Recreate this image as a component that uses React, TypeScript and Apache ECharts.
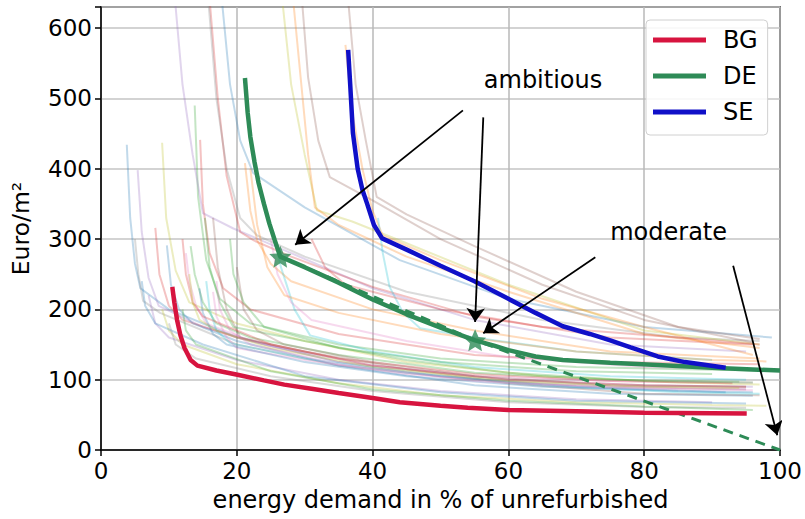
import React, { useEffect, useRef } from "react";
import * as echarts from "echarts";

// ---- axis ticks ----
const xTicks = [0, 20, 40, 60, 80, 100];
const yTicks = [0, 100, 200, 300, 400, 500, 600];

// ---- highlighted countries ----
const seriesNames = ["BG", "DE", "SE"];
const bgCurve = [[10.5,232],[10.8,210],[11.2,185],[11.7,163],[12.3,145],[13.2,128],[14.2,120],[17,113],[20.1,107],[24,99],[27,93],[31,87],[35,81],[40,74],[44,68],[50,63],[54,60],[60,57],[70,55],[80,53],[95.1,52]];
const deCurve = [[21.2,529],[21.6,480],[22.0,445],[22.6,410],[23.2,380],[24,350],[24.8,322],[25.6,298],[26.4,275],[30,260],[35,238],[40,214],[45,193],[50,174],[55.1,156],[58,148],[60,142],[64,133],[68,128],[75,124],[82,121],[90,117],[100,113]];
const seCurve = [[36.4,569],[36.7,520],[37.1,451],[37.8,400],[38.5,370],[39.2,350],[40.2,320],[41.4,301],[45,285],[50,262],[55,240],[60,215],[64,195],[68,176],[72,165],[75,156],[78,146],[82,133],[86,125],[92,117]];
const deTargetLine = [[26.4,275],[55.1,156],[100,0]];
const starPoints = [[26.4,275],[55.1,156]];

// ---- annotations ----
const annotationTexts = [["ambitious", 65.1, 526], ["moderate", 83.6, 310]];
const arrowLines = [
  [[53.3,483],[28.6,292]],
  [[56.3,473],[55.1,182]],
  [[72.8,274],[56.3,166]],
  [[93.1,262],[99.6,21]],
];

// ---- other countries (faint) ----
const tab10 = ["#1f77b4","#ff7f0e","#2ca02c","#d62728","#9467bd","#8c564b","#e377c2","#7f7f7f","#bcbd22","#17becf"];
const c01 = [[3.8,434],[4.3,330],[5.0,265],[5.8,230],[10,200],[20,160],[35,125],[50,105],[70,90],[92,82]];
const c02 = [[5.0,300],[5.5,250],[6.2,212],[8.7,195],[20,150],[35,120],[55,100],[75,90],[95,86]];
const c03 = [[5.4,398],[6.0,310],[7.0,245],[8.5,205],[15,175],[25,148],[40,120],[60,100],[80,92],[96,90]];
const c04 = [[9.0,437],[9.6,330],[11,255],[13,210],[20,180],[30,155],[45,125],[65,105],[85,96],[97,93]];
const c05 = [[8.0,316],[8.6,250],[10,205],[12,185],[20,160],[35,130],[55,108],[75,98],[93,95]];
const c06 = [[9.7,291],[10.3,235],[11.5,200],[13.5,180],[20,155],[35,120],[55,92],[75,80],[96,77]];
const c07 = [[13.8,490],[14.3,360],[15.5,270],[17.5,215],[22,180],[35,150],[50,130],[70,118],[90,114],[97,113]];
const c08 = [[14.6,441],[15,350],[16,280],[18,230],[22,200],[35,165],[55,135],[75,125],[97,122]];
const c09 = [[10.9,640],[12,520],[13.5,420],[15,337],[19.5,315],[28,280],[40,230],[55,185],[75,150],[95,140]];
const c10 = [[16,640],[17.2,500],[18.5,390],[20.5,310],[22.5,298],[28,275],[40,232],[55,190],[75,160],[96,150]];
const c11 = [[15.8,640],[17,500],[18.5,400],[20.5,330],[23,305],[30,275],[45,225],[65,185],[85,160],[97,155]];
const c12 = [[17.8,640],[19,520],[20.5,440],[22.4,394],[30,345],[44,270],[60,215],[80,175],[98.8,160]];
const c13 = [[26.7,640],[28,520],[30,420],[31.8,341],[37,325],[44,298],[60,235],[80,170],[97,150]];
const c14 = [[28.3,640],[29.5,520],[30.5,420],[31.5,345],[35,320],[45,275],[60,225],[80,165],[97,145]];
const c15 = [[29.6,640],[30.5,530],[32,440],[33.7,388],[40,355],[50,300],[65,235],[80,185],[96,153]];
const c16 = [[36.4,640],[37.5,520],[39,440],[40.6,360],[45,335],[55,290],[70,225],[85,175],[97,158]];
const c17 = [[36,576],[37,480],[38.5,400],[40,340],[41.5,305],[50,270],[65,215],[80,175],[96,135]];
const c18 = [[21.2,408],[22,340],[23,298],[25,265],[28,240],[40,200],[55,170],[75,140],[97,130]];
const c19 = [[25.3,313],[26.5,260],[28.5,200],[30.8,163],[40,140],[55,118],[75,105],[95,100]];
const c20 = [[40.8,330],[41.5,280],[42.5,232],[44.5,195],[47,173],[55,160],[70,140],[90,128]];
const c21 = [[13.2,290],[13.8,250],[15,210],[17,180],[22,160],[35,135],[55,110],[75,100],[94,97]];
const c22 = [[12.5,280],[13,240],[14,205],[15.5,180],[22,155],[35,125],[55,105],[75,98],[96,96]];
const c23 = [[16.5,330],[17.2,260],[18.5,200],[20.5,160],[30,140],[45,115],[60,95],[80,80],[97,78]];
const c24 = [[15.3,330],[16,260],[17.5,210],[19.5,175],[30,155],[45,128],[60,110],[80,98],[96,96]];
const c25 = [[16.5,225],[17,190],[18.5,160],[20,145],[30,128],[45,108],[65,93],[85,88],[95,87]];
const c26 = [[14.5,230],[15,195],[16.5,165],[18.5,150],[30,125],[45,105],[65,90],[85,84],[96,82]];
const c27 = [[15.5,240],[16,200],[17,170],[19,152],[30,130],[45,110],[65,92],[85,82],[97,80]];
const c28 = [[12,300],[12.5,250],[13.5,210],[15,190],[25,150],[40,120],[60,100],[80,92],[95,90]];
const c29 = [[13,250],[13.5,210],[14.5,185],[17,170],[25,145],[40,118],[60,98],[80,90],[94,88]];
const c30 = [[7,220],[8,180],[10,160],[20,128],[35,100],[50,84],[70,72],[90,68]];
const c31 = [[20,260],[21,200],[23,170],[27,150],[40,125],[55,105],[75,92],[95,90]];
const c32 = [[25,300],[26,250],[28,210],[31,185],[45,155],[60,132],[80,118],[96,115]];
const c33 = [[19,300],[19.5,250],[21,210],[24,175],[35,145],[50,125],[70,112],[90,108]];
const c34 = [[9,200],[10,170],[12,150],[20,122],[35,95],[50,78],[70,68],[90,64],[98,63]];
const c35 = [[6,240],[6.5,205],[8,180],[15,150],[30,105],[50,82],[70,70],[95,66]];
const c36 = [[10,180],[11,150],[14,130],[25,105],[40,84],[60,68],[80,61],[95,60]];
const c37 = [[22,400],[23,320],[24.5,260],[27,220],[35,195],[50,165],[70,140],[90,128],[98,126]];
const c38 = [[31,300],[33,260],[36,235],[50,200],[65,175],[85,160],[97,150]];
const c39 = [[12,200],[12.5,170],[14,150],[25,112],[40,86],[60,70],[80,62],[96,57]];
const c40 = [[17,240],[17.5,200],[19,170],[22,150],[35,122],[55,98],[75,88],[96,85]];
const fadedCurves = [c01,c02,c03,c04,c05,c06,c07,c08,c09,c10,c11,c12,c13,c14,c15,c16,c17,c18,c19,c20,c21,c22,c23,c24,c25,c26,c27,c28,c29,c30,c31,c32,c33,c34,c35,c36,c37,c38,c39,c40];
const fadedColorIdx = [0,7,4,8,3,0,2,3,4,3,7,0,8,1,5,5,1,1,9,9,2,6,5,2,6,0,9,3,8,4,5,6,2,8,0,7,1,3,2,6];

const FONT = "DejaVu Sans";
const STAR = "path://M0,-10 L2.9,-3.6 L9.5,-3.1 L4.5,1.5 L5.9,8.1 L0,4.6 L-5.9,8.1 L-4.5,1.5 L-9.5,-3.1 L-2.9,-3.6 Z";

export default function App() {
  const ref = useRef<HTMLDivElement>(null);
  useEffect(() => {
    if (!ref.current) return;
    const chart = echarts.init(ref.current, undefined, { renderer: "svg" });
    const faded = fadedCurves.map((pts, i) => ({
      type: "line",
      data: pts,
      showSymbol: false,
      symbol: "none",
      silent: true,
      lineStyle: { color: tab10[fadedColorIdx[i] % 10], width: 2, opacity: 0.28 },
      z: 1,
    }));
    const mainColors = ["#d7143f", "#2e8b57", "#1010c8"];
    const mains = [bgCurve, deCurve, seCurve].map((pts, i) => ({
      name: seriesNames[i],
      type: "line",
      data: pts,
      symbol: "none",
      lineStyle: { color: mainColors[i], width: 4.5 },
      itemStyle: { color: mainColors[i] },
      z: 5,
    }));
    chart.setOption({
      animation: false,
      textStyle: { fontFamily: FONT },
      grid: { left: 101, right: 25, top: 7, bottom: 69, show: true, borderColor: "#000", borderWidth: 1.5, backgroundColor: "transparent" },
      legend: {
        data: seriesNames,
        orient: "vertical",
        left: 646,
        top: 20,
        itemWidth: 53,
        itemHeight: 5,
        itemGap: 12,
        icon: "rect",
        padding: [8, 10, 11, 7],
        backgroundColor: "rgba(255,255,255,0.85)",
        borderColor: "#d0d0d0",
        borderWidth: 1,
        borderRadius: 4,
        textStyle: { fontFamily: FONT, fontSize: 24, color: "#000", padding: [0, 0, 0, 12] },
      },
      xAxis: {
        type: "value",
        min: xTicks[0],
        max: xTicks[xTicks.length - 1],
        interval: xTicks[1] - xTicks[0],
        name: "energy demand in % of unrefurbished",
        nameLocation: "middle",
        nameGap: 38,
        nameTextStyle: { fontFamily: FONT, fontSize: 24, color: "#000" },
        axisLine: { lineStyle: { color: "#000", width: 1.5 } },
        axisTick: { show: true, length: 6, lineStyle: { color: "#000", width: 1.5 } },
        axisLabel: { fontFamily: FONT, fontSize: 23, color: "#000", margin: 9 },
        splitLine: { show: true, lineStyle: { color: "#b8b8b8", width: 1.5 } },
      },
      yAxis: {
        type: "value",
        min: yTicks[0],
        max: 630,
        interval: yTicks[1] - yTicks[0],
        name: "Euro/m²",
        nameLocation: "middle",
        nameGap: 68,
        nameTextStyle: { fontFamily: FONT, fontSize: 23.5, color: "#000" },
        axisLine: { show: true, lineStyle: { color: "#000", width: 1.5 } },
        axisTick: { show: true, length: 6, lineStyle: { color: "#000", width: 1.5 } },
        axisLabel: {
          fontFamily: FONT, fontSize: 23, color: "#000", margin: 9,
          formatter: (v: number) => (yTicks.indexOf(v) >= 0 ? String(v) : ""),
        },
        splitLine: { show: true, lineStyle: { color: "#c4c4c4", width: 1.5 } },
      },
      series: [
        ...faded,
        mains[0],
        {
          type: "line",
          data: deTargetLine,
          symbol: "none",
          lineStyle: { color: "#2e8b57", width: 3, type: [10, 7] },
          z: 4,
        },
        mains[1],
        mains[2],
        {
          type: "scatter",
          data: starPoints,
          symbol: STAR,
          symbolSize: 22,
          itemStyle: { color: "#2e8b57" },
          z: 6,
        },
        {
          type: "lines",
          coordinateSystem: "cartesian2d",
          data: arrowLines.map((c) => ({ coords: c })),
          symbol: ["none", "arrow"],
          symbolSize: [11, 14],
          lineStyle: { color: "#000", width: 1.8, opacity: 1 },
          z: 7,
        },
        {
          type: "scatter",
          data: annotationTexts.map((a) => ({ value: [a[1], a[2]], name: a[0] })),
          symbolSize: 1,
          itemStyle: { color: "#fff", opacity: 0 },
          label: {
            show: true,
            position: "inside",
            formatter: (p: any) => p.name,
            fontFamily: FONT,
            fontSize: 24,
            color: "#000",
            opacity: 1,
            textBorderWidth: 0,
          },
          z: 8,
        },
      ],
    });
    return () => chart.dispose();
  }, []);
  return <div ref={ref} style={{ position: "fixed", left: 0, top: 0, width: 805, height: 519, background: "#fff" }} />;
}
